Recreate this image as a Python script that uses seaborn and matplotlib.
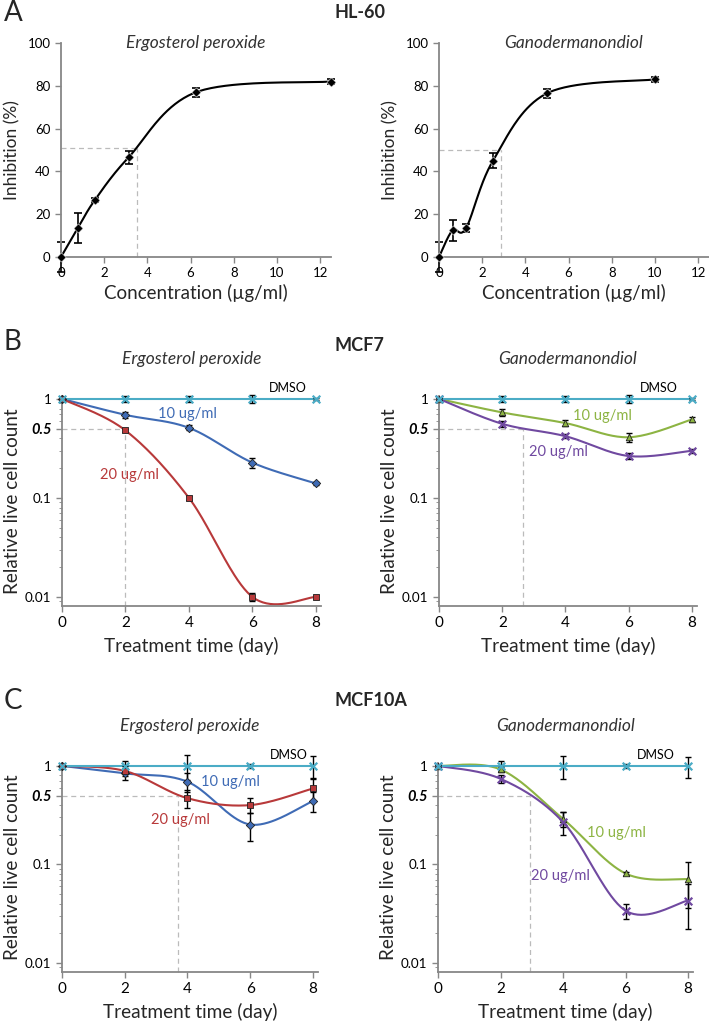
import numpy as np
import pandas as pd
import matplotlib
matplotlib.use("Agg")
import matplotlib.pyplot as plt
import seaborn as sns

# ---- data ----
# A: HL-60 inhibition
ep_conc = [0, 0.78, 1.56, 3.125, 6.25, 12.5]
ep_inhib = [0, 13.5, 26.5, 46.5, 77, 82]
ep_err = [7, 7, 1, 3, 2, 1.2]
gd_conc = [0, 0.625, 1.25, 2.5, 5, 10]
gd_inhib = [0, 12.5, 13.5, 45, 76.5, 83]
gd_err = [7, 5, 2, 3.5, 2, 1]
ic50_a = [(3.5, 51), (2.85, 50)]

days = [0, 2, 4, 6, 8]

# B: MCF7
mcf7_ep_dmso = [1, 1, 1, 1, 1]
mcf7_ep_dmso_err = [0.03, 0.08, 0.06, 0.1, 0.03]
mcf7_ep_10 = [1, 0.69, 0.51, 0.227, 0.14]
mcf7_ep_10_err = [0.02, 0.05, 0.03, 0.025, 0.005]
mcf7_ep_20 = [1, 0.48, 0.1, 0.01, 0.01]
mcf7_ep_20_err = [0.02, 0.02, 0.005, 0.001, 0.0005]

mcf7_gd_dmso = [1, 1, 1, 1, 1]
mcf7_gd_dmso_err = [0.03, 0.08, 0.06, 0.1, 0.03]
mcf7_gd_10 = [1, 0.73, 0.57, 0.41, 0.62]
mcf7_gd_10_err = [0.02, 0.06, 0.04, 0.04, 0.03]
mcf7_gd_20 = [1, 0.56, 0.42, 0.265, 0.30]
mcf7_gd_20_err = [0.02, 0.04, 0.02, 0.02, 0.015]

# C: MCF10A
mcf10a_ep_dmso = [1, 1, 1, 1, 1]
mcf10a_ep_dmso_err = [0.02, 0.12, 0.28, 0.05, 0.25]
mcf10a_ep_10 = [1, 0.84, 0.69, 0.254, 0.44]
mcf10a_ep_10_err = [0.02, 0.12, 0.15, 0.08, 0.1]
mcf10a_ep_20 = [1, 0.89, 0.47, 0.40, 0.59]
mcf10a_ep_20_err = [0.02, 0.1, 0.1, 0.07, 0.15]

mcf10a_gd_dmso = [1, 1, 1, 1, 1]
mcf10a_gd_dmso_err = [0.02, 0.12, 0.26, 0.05, 0.24]
mcf10a_gd_10 = [1, 0.92, 0.29, 0.081, 0.071]
mcf10a_gd_10_err = [0.02, 0.06, 0.05, 0.003, 0.035]
mcf10a_gd_20 = [1, 0.74, 0.27, 0.034, 0.043]
mcf10a_gd_20_err = [0.02, 0.07, 0.07, 0.006, 0.021]

ic50_day = {"mcf7_ep": 2.0, "mcf7_gd": 2.65, "mcf10a_ep": 3.7, "mcf10a_gd": 2.95}

# ---- style ----
sns.set_style("ticks")
plt.rcParams['font.family'] = ['Lato', 'DejaVu Sans']
GRAY = '#878787'
TEAL = '#4BACC6'
BLUE = '#3F6BB5'
RED = '#B8393A'
GREEN = '#8DB443'
PURPLE = '#7049A0'

W, H = 709, 1023
fig = plt.figure(figsize=(W / 100, H / 100), dpi=100)


def px_axes(l, t, r, b):
    return fig.add_axes([l / W, 1 - b / H, (r - l) / W, (b - t) / H])


def smooth(x, y, n=40):
    # Excel-like smoothed line: bezier segments with catmull-rom control points
    pts = np.column_stack([x, y]).astype(float)
    P = np.vstack([pts[0], pts, pts[-1]])
    t = np.linspace(0, 1, n)[:, None]
    segs = []
    for i in range(1, len(P) - 2):
        p0, p1, p2, p3 = P[i - 1], P[i], P[i + 1], P[i + 2]
        c1 = p1 + (p2 - p0) / 6
        c2 = p2 - (p3 - p1) / 6
        segs.append((1 - t) ** 3 * p1 + 3 * (1 - t) ** 2 * t * c1 + 3 * (1 - t) * t ** 2 * c2 + t ** 3 * p2)
    return np.vstack(segs)


def style_axes(ax):
    sns.despine(ax=ax)
    for s in ['left', 'bottom']:
        ax.spines[s].set_color(GRAY)
        ax.spines[s].set_linewidth(1.3)
    ax.tick_params(axis='both', colors=GRAY, labelcolor='black', length=4, width=1)


def series(ax, x, y, err, color, marker, size, lw=1.5):
    c = smooth(x, np.log10(y))
    sns.lineplot(x=c[:, 0], y=10 ** c[:, 1], sort=False, estimator=None, ax=ax, color=color, lw=lw)
    ax.errorbar(x, y, yerr=err, fmt='none', ecolor='black', elinewidth=1, capsize=2.5, capthick=1, zorder=4)
    if marker == 'x':
        sns.scatterplot(x=x, y=y, ax=ax, color=color, marker='x', s=size, linewidth=1.6, zorder=5)
    else:
        sns.scatterplot(x=x, y=y, ax=ax, color=color, marker=marker, s=size,
                        edgecolor='#222222', linewidth=0.6, zorder=5)


# ---- A: HL-60 ----
for (l, r), conc, inhib, err, ic, name in [((61, 331), ep_conc, ep_inhib, ep_err, ic50_a[0], 'Ergosterol peroxide'),
                                          ((439, 709), gd_conc, gd_inhib, gd_err, ic50_a[1], 'Ganodermanondiol')]:
    ax = px_axes(l, 43, r, 257)
    ax.plot([0, ic[0]], [ic[1], ic[1]], ls=(0, (4, 3)), color='#BBBBBB', lw=0.9)
    ax.plot([ic[0], ic[0]], [0, ic[1]], ls=(0, (4, 3)), color='#BBBBBB', lw=0.9)
    c = smooth(conc, inhib)
    sns.lineplot(x=c[:, 0], y=c[:, 1], sort=False, estimator=None, ax=ax, color='black', lw=1.5)
    ax.errorbar(conc, inhib, yerr=err, fmt='none', ecolor='black', elinewidth=1.2, capsize=3, capthick=1.2)
    sns.scatterplot(x=conc, y=inhib, ax=ax, color='black', marker='D', s=22, zorder=5)
    ax.set_xlim(0, 12.5)
    ax.set_ylim(0, 100)
    ax.set_xticks(range(0, 13, 2))
    ax.set_yticks(range(0, 101, 20))
    style_axes(ax)
    ax.tick_params(labelsize=9.5)
    ax.set_xlabel('Concentration (µg/ml)', fontsize=13.5, labelpad=3)
    ax.set_ylabel('Inhibition (%)', fontsize=12.5, labelpad=5)
    ax.text(0.5, 1.0, name, transform=ax.transAxes, ha='center', va='center',
            style='italic', fontsize=12.5, color='#333333')
    for art in ax.lines + ax.collections:
        art.set_clip_on(False)

# ---- B & C: log panels ----
panels = [
    ((62, 396, 321, 606), 'Ergosterol peroxide', ic50_day['mcf7_ep'],
     [(mcf7_ep_dmso, mcf7_ep_dmso_err, TEAL, 'x', 30),
      (mcf7_ep_10, mcf7_ep_10_err, BLUE, 'D', 18),
      (mcf7_ep_20, mcf7_ep_20_err, RED, 's', 18)],
     [(3.95, 0.70, BLUE), (2.14, 0.17, RED), (7.1, 1.3, 'black')]),
    ((439, 396, 697, 606), 'Ganodermanondiol', ic50_day['mcf7_gd'],
     [(mcf7_gd_dmso, mcf7_gd_dmso_err, TEAL, 'x', 30),
      (mcf7_gd_10, mcf7_gd_10_err, GREEN, '^', 22),
      (mcf7_gd_20, mcf7_gd_20_err, PURPLE, 'x', 30)],
     [(5.16, 0.67, GREEN), (3.77, 0.29, PURPLE), (6.96, 1.3, 'black')]),
    ((62, 763, 318, 972), 'Ergosterol peroxide', ic50_day['mcf10a_ep'],
     [(mcf10a_ep_dmso, mcf10a_ep_dmso_err, TEAL, 'x', 30),
      (mcf10a_ep_10, mcf10a_ep_10_err, BLUE, 'D', 18),
      (mcf10a_ep_20, mcf10a_ep_20_err, RED, 's', 18)],
     [(5.38, 0.69, BLUE), (3.77, 0.285, RED), (7.23, 1.29, 'black')]),
    ((438, 763, 693, 972), 'Ganodermanondiol', ic50_day['mcf10a_gd'],
     [(mcf10a_gd_dmso, mcf10a_gd_dmso_err, TEAL, 'x', 30),
      (mcf10a_gd_10, mcf10a_gd_10_err, GREEN, '^', 22),
      (mcf10a_gd_20, mcf10a_gd_20_err, PURPLE, 'x', 30)],
     [(5.7, 0.21, GREEN), (3.93, 0.077, PURPLE), (6.96, 1.29, 'black')]),
]

for box, name, ic, sers, labpos in panels:
    ax = px_axes(*box)
    ax.set_yscale('log')
    ax.set_xlim(0, 8.16)
    ax.set_ylim(0.0081, 1.07)
    ax.plot([0, ic], [0.5, 0.5], ls=(0, (4, 3)), color='#BBBBBB', lw=0.9)
    ax.plot([ic, ic], [0.0081, 0.5], ls=(0, (4, 3)), color='#BBBBBB', lw=0.9)
    for i in [1, 2, 0]:
        y, e, col, mk, sz = sers[i]
        series(ax, days, y, e, col, mk, sz)
    ax.text(labpos[0][0], labpos[0][1], '10 ug/ml', color=labpos[0][2], ha='center', va='center', fontsize=10.5)
    ax.text(labpos[1][0], labpos[1][1], '20 ug/ml', color=labpos[1][2], ha='center', va='center', fontsize=10.5)
    ax.text(labpos[2][0], labpos[2][1], 'DMSO', color='black', ha='center', va='center', fontsize=9)
    ax.set_xticks(days)
    ax.set_yticks([0.01, 0.1, 0.5, 1])
    ax.set_yticklabels(['0.01', '0.1', '0.5', '1'])
    ax.yaxis.set_minor_locator(matplotlib.ticker.LogLocator(base=10, subs=np.arange(2, 10)))
    ax.yaxis.set_minor_formatter(matplotlib.ticker.NullFormatter())
    style_axes(ax)
    ax.tick_params(axis='y', which='minor', colors=GRAY, length=2)
    ax.tick_params(axis='x', labelsize=11)
    ax.tick_params(axis='y', which='major', labelsize=9.7)
    lbl = ax.get_yticklabels()[2]
    lbl.set_fontweight('bold')
    lbl.set_fontstyle('italic')
    lbl.set_fontsize(10.5)
    ax.set_xlabel('Treatment time (day)', fontsize=13.7, labelpad=5)
    ax.set_ylabel('Relative live cell count', fontsize=13.6, labelpad=3)
    ax.text(0.5, 1.0 + 37 / (box[3] - box[1]), name, transform=ax.transAxes, ha='center', va='center',
            style='italic', fontsize=12.5, color='#333333')
    for art in ax.lines + ax.collections:
        art.set_clip_on(False)

# panel letters and cell line titles
for txt, y in [('A', 13), ('B', 342), ('C', 701)]:
    fig.text(4 / W, 1 - y / H, txt, fontsize=20, va='center', ha='left')
for txt, y in [('HL-60', 12), ('MCF7', 346), ('MCF10A', 700)]:
    fig.text(335 / W, 1 - y / H, txt, fontsize=13, fontweight='bold', va='center', ha='left')

fig.savefig('out.png', dpi=100)
